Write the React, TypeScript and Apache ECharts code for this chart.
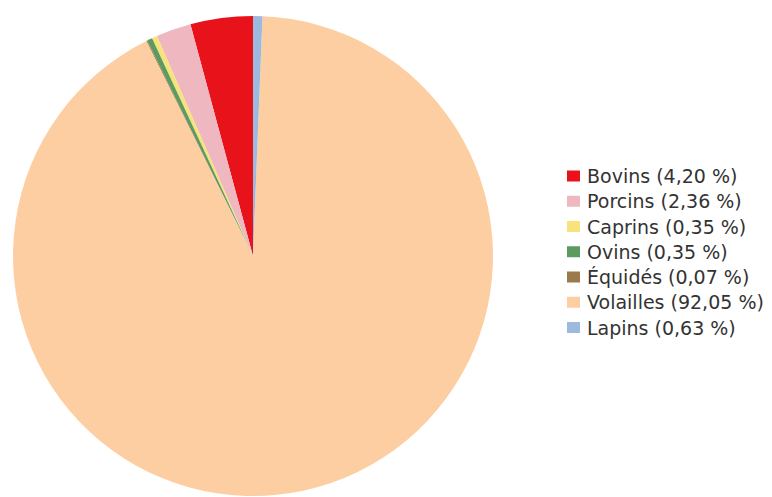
import React, { useEffect, useRef } from "react";
import * as echarts from "echarts";

const categories = ["Bovins", "Porcins", "Caprins", "Ovins", "Équidés", "Volailles", "Lapins"];
const values = [4.2, 2.36, 0.35, 0.35, 0.07, 92.05, 0.63];
const labels = ["4,20", "2,36", "0,35", "0,35", "0,07", "92,05", "0,63"];
const colors = ["#e8121b", "#efb7c0", "#f8e27c", "#5b9b60", "#9b7b4b", "#fdcea2", "#9cb9de"];

export default function App() {
  const ref = useRef<HTMLDivElement>(null);
  useEffect(() => {
    if (!ref.current) return;
    const chart = echarts.init(ref.current, undefined, { renderer: "svg" });
    const data = categories.map((c, i) => ({ name: c, value: values[i], itemStyle: { color: colors[i] } }));
    chart.setOption({
      animation: false,
      backgroundColor: "#ffffff",
      legend: {
        orient: "vertical",
        left: 554,
        top: 153,
        itemWidth: 13,
        itemHeight: 11,
        itemGap: 5.25,
        icon: "rect",
        textStyle: { fontFamily: "DejaVu Sans, sans-serif", fontSize: 19, color: "#333", lineHeight: 20, padding: [0, 0, 0, 2] },
        formatter: (name: string) => `${name} (${labels[categories.indexOf(name)]} %)`,
      },
      series: [
        {
          type: "pie",
          center: [245, 248],
          radius: 240,
          startAngle: 90,
          clockwise: false,
          label: { show: false },
          labelLine: { show: false },
          emphasis: { disabled: true },
          data,
        },
      ],
    });
    return () => chart.dispose();
  }, []);
  return <div ref={ref} style={{ width: 764, height: 489 }} />;
}
